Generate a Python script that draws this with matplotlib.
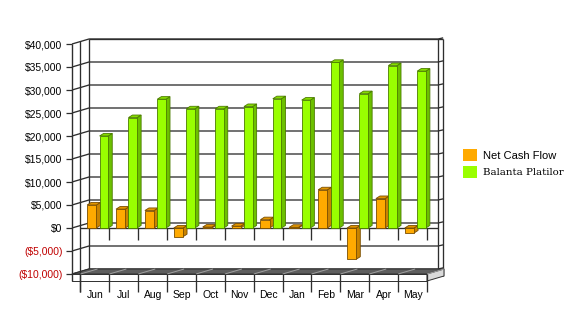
import matplotlib
matplotlib.use("Agg")
import matplotlib.pyplot as plt
from matplotlib.patches import Polygon, Patch
from matplotlib.ticker import FuncFormatter

# ---- data -------------------------------------------------------------
months = ["Jun", "Jul", "Aug", "Sep", "Oct", "Nov", "Dec",
          "Jan", "Feb", "Mar", "Apr", "May"]
net_cash_flow = [5000, 4100, 3800, -1900, 200, 400, 1800,
                 150, 8300, -6800, 6400, -1100]
balanta_platilor = [20000, 24000, 28000, 25900, 25900, 26400, 28100,
                    27800, 36000, 29200, 35300, 34100]
y_ticks = list(range(-10000, 40001, 5000))
series_names = ["Net Cash Flow", "Balanta Platilor"]

# ---- styling ----------------------------------------------------------
ORANGE = dict(front="#FFAA00", side="#C98300", top="#E39600", edge="#7A4E00")
GREEN = dict(front="#99FF00", side="#6CC000", top="#86DD00", edge="#4C7C00")
LINE = "#2E2E2E"

fig = plt.figure(figsize=(5.76, 3.32), dpi=100)
ax = fig.add_axes([72 / 576, 58 / 332, 355 / 576, 230 / 332])
XL, XR = -0.794, 11.5
YMIN, YMAX = -10000, 40000
ax.set_xlim(XL, XR)
ax.set_ylim(YMIN, YMAX)
for s in ax.spines.values():
    s.set_visible(False)

# depth of the chart box and of each bar, in data units
DX, DY = 0.589, 1087
BDX, BDY = 0.14, 560
XBR = 11.883          # right edge of the back wall
XOR = 12.06           # outer right edge

def line(xs, ys, color=LINE, lw=0.95, z=1):
    ax.plot(xs, ys, color=color, lw=lw, clip_on=False, zorder=z,
            solid_capstyle="butt")

def poly(pts, fc, ec=LINE, lw=0.7, z=2):
    ax.add_patch(Polygon(pts, closed=True, facecolor=fc, edgecolor=ec,
                         lw=lw, clip_on=False, zorder=z))

# gridlines: side wall diagonals + back wall horizontals + right ticks
for v in y_ticks:
    line([XL, XL + DX, XBR], [v, v + DY, v + DY])
    line([XBR, XOR], [v + DY, v + DY + 250])

# wall edges
line([XL + DX, XL + DX], [YMIN + DY, YMAX + DY])
line([XBR, XBR], [YMIN + DY, YMAX + DY])
line([XOR, XOR], [YMIN + DY - 1500, YMAX + DY])
line([XL + DX, XOR], [YMAX + DY, YMAX + DY])
line([XL, XL], [YMIN - 1520, YMAX], lw=1.0, z=6)

# floor slab
FRONT_H = 1520
poly([(XL, YMIN), (XR, YMIN), (XR + DX, YMIN + DY), (XL + DX, YMIN + DY)],
     "#5E5E5E", z=2)
poly([(XL, YMIN - FRONT_H), (XR, YMIN - FRONT_H), (XR, YMIN), (XL, YMIN)],
     "white", z=2)
poly([(XR, YMIN - FRONT_H), (XR + DX, YMIN - FRONT_H + DY),
      (XR + DX, YMIN + DY), (XR, YMIN)], "#DADADA", z=2)

bounds = [i - 0.5 for i in range(len(months) + 1)]
for b in bounds:
    line([b, b + DX], [YMIN, YMIN + DY], color="#A0A0A0", lw=0.7, z=3)
    line([b, b], [YMIN - 3900, YMIN], z=3)

# zero plane line with its category ticks
line([-0.5, XBR], [0, 0], z=2)
line([-0.5, -0.5], [YMIN - 3900, YMAX + DY / 2], z=2)
for b in bounds[1:]:
    line([b, b], [-2600, 0], z=2)

# ---- bars -------------------------------------------------------------
def bar3d(x0, x1, v, c):
    y0, y1 = min(0, v), max(0, v)
    poly([(x1, y0), (x1 + BDX, y0 + BDY), (x1 + BDX, y1 + BDY), (x1, y1)],
         c["side"], c["edge"], 0.6, 4)
    poly([(x0, y1), (x1, y1), (x1 + BDX, y1 + BDY), (x0 + BDX, y1 + BDY)],
         c["top"], c["edge"], 0.6, 4)
    poly([(x0, y0), (x1, y0), (x1, y1), (x0, y1)],
         c["front"], c["edge"], 0.6, 4)

for i in range(len(months)):
    b = i - 0.5
    bar3d(b + 0.23, b + 0.55, net_cash_flow[i], ORANGE)
    bar3d(b + 0.66, b + 0.96, balanta_platilor[i], GREEN)

# ---- axes text --------------------------------------------------------
def money(v, _pos=None):
    s = "${:,.0f}".format(abs(v))
    return "({})".format(s) if v < 0 else s

ax.set_yticks(y_ticks)
ax.yaxis.set_major_formatter(FuncFormatter(money))
ax.tick_params(axis="y", length=4.3, width=0.9, color=LINE, pad=2.5,
               labelsize=7.5)
for t, v in zip(ax.get_yticklabels(), y_ticks):
    t.set_family("Liberation Sans")
    t.set_color("#C00000" if v < 0 else "black")

ax.set_xticks(range(len(months)))
ax.set_xticklabels(months, family="Liberation Sans", fontsize=7.5)
ax.tick_params(axis="x", length=0, pad=11.5)

# ---- legend -----------------------------------------------------------
handles = [Patch(facecolor=ORANGE["front"], edgecolor="none"),
           Patch(facecolor=GREEN["front"], edgecolor="none")]
leg = fig.legend(handles, series_names, loc="upper left",
                 bbox_to_anchor=(462.7 / 576, 1 - 149 / 332),
                 frameon=False, fontsize=8, handlelength=1.26,
                 handleheight=1.26, handletextpad=0.55, labelspacing=0.45,
                 borderpad=0, borderaxespad=0)
leg.get_texts()[0].set_family("Liberation Sans")
leg.get_texts()[1].set_family("DejaVu Serif")
leg.get_texts()[1].set_fontsize(7.4)

fig.savefig("out.png", dpi=100)
